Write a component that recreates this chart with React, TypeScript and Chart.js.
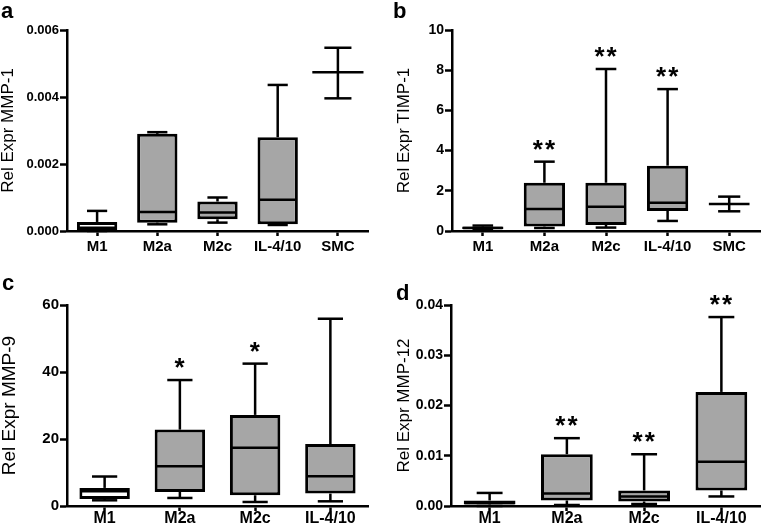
import React, { useEffect, useRef } from 'react';
import { Chart, registerables } from 'chart.js';

Chart.register(...registerables);

const FAMILY = "'Liberation Sans', Arial, Helvetica, sans-serif";
const GRAY = '#a6a6a6';

// ---------- Panel a : MMP-1 ----------
const categoriesA = ['M1', 'M2a', 'M2c', 'IL-4/10', 'SMC'];
const minA = [0, 0.0002, 0.00025, 0.00018, null];
const q1A = [0.00003, 0.00025, 0.00035, 0.0002, null];
const medianA = [0.0001, 0.00057, 0.00055, 0.00093, null];
const q3A = [0.00027, 0.0029, 0.00088, 0.0028, null];
const maxA = [0.0006, 0.00295, 0.001, 0.00436, null];
const meanA = [null, null, null, null, 0.00474];
const errLowA = [null, null, null, null, 0.00396];
const errHighA = [null, null, null, null, 0.00547];
const starsA = ['', '', '', '', ''];
const ticksA = [0, 0.002, 0.004, 0.006];
const tickLabelsA = ['0.000', '0.002', '0.004', '0.006'];
const titleA = 'Rel Expr MMP-1';

// ---------- Panel b : TIMP-1 ----------
const categoriesB = ['M1', 'M2a', 'M2c', 'IL-4/10', 'SMC'];
const minB = [0.05, 0.15, 0.17, 0.5, null];
const q1B = [0.1, 0.22, 0.3, 1.0, null];
const medianB = [0.15, 1.09, 1.21, 1.41, null];
const q3B = [0.22, 2.4, 2.4, 3.25, null];
const maxB = [0.27, 3.45, 8.06, 7.06, null];
const meanB = [null, null, null, null, 1.34];
const errLowB = [null, null, null, null, 0.98];
const errHighB = [null, null, null, null, 1.71];
const starsB = ['', '**', '**', '**', ''];
const ticksB = [0, 2, 4, 6, 8, 10];
const tickLabelsB = ['0', '2', '4', '6', '8', '10'];
const titleB = 'Rel Expr TIMP-1';

// ---------- Panel c : MMP-9 ----------
const categoriesC = ['M1', 'M2a', 'M2c', 'IL-4/10'];
const minC = [1.7, 2.4, 1.2, 1.4];
const q1C = [2.1, 4.2, 3.2, 3.7];
const medianC = [4.4, 11.9, 17.4, 8.9];
const q3C = [5.4, 22.8, 27.2, 18.5];
const maxC = [8.8, 37.6, 42.5, 55.9];
const meanC = [null, null, null, null];
const errLowC = [null, null, null, null];
const errHighC = [null, null, null, null];
const starsC = ['', '*', '*', ''];
const ticksC = [0, 20, 40, 60];
const tickLabelsC = ['0', '20', '40', '60'];
const titleC = 'Rel Expr MMP-9';

// ---------- Panel d : MMP-12 ----------
const categoriesD = ['M1', 'M2a', 'M2c', 'IL-4/10'];
const minD = [0, 0.0002, 0.0004, 0.0019];
const q1D = [0.0003, 0.0011, 0.0009, 0.0031];
const medianD = [0.0006, 0.0025, 0.0019, 0.0088];
const q3D = [0.0011, 0.0103, 0.0031, 0.0227];
const maxD = [0.0026, 0.0135, 0.0103, 0.0376];
const meanD = [null, null, null, null];
const errLowD = [null, null, null, null];
const errHighD = [null, null, null, null];
const starsD = ['', '**', '**', '**'];
const ticksD = [0, 0.01, 0.02, 0.03, 0.04];
const tickLabelsD = ['0.00', '0.01', '0.02', '0.03', '0.04'];
const titleD = 'Rel Expr MMP-12';

type PanelData = {
  labels: string[]; min: (number | null)[]; q1: (number | null)[]; median: (number | null)[];
  q3: (number | null)[]; max: (number | null)[]; mean: (number | null)[]; low: (number | null)[];
  high: (number | null)[]; stars: string[]; ticks: number[]; tickLabels: string[]; title: string;
};

const panels: PanelData[] = [
  { labels: categoriesA, min: minA, q1: q1A, median: medianA, q3: q3A, max: maxA, mean: meanA, low: errLowA, high: errHighA, stars: starsA, ticks: ticksA, tickLabels: tickLabelsA, title: titleA },
  { labels: categoriesB, min: minB, q1: q1B, median: medianB, q3: q3B, max: maxB, mean: meanB, low: errLowB, high: errHighB, stars: starsB, ticks: ticksB, tickLabels: tickLabelsB, title: titleB },
  { labels: categoriesC, min: minC, q1: q1C, median: medianC, q3: q3C, max: maxC, mean: meanC, low: errLowC, high: errHighC, stars: starsC, ticks: ticksC, tickLabels: tickLabelsC, title: titleC },
  { labels: categoriesD, min: minD, q1: q1D, median: medianD, q3: q3D, max: maxD, mean: meanD, low: errLowD, high: errHighD, stars: starsD, ticks: ticksD, tickLabels: tickLabelsD, title: titleD },
];

// layout / style per panel
const styles = [
  { letter: 'a', left: 0, top: 0, width: 380, height: 264, padding: { left: 0, top: 30, right: 12, bottom: 0 }, yWidth: 67, xHeight: 33, xFont: 15, yFont: 13, titleFont: 17, xPad: 3, meanW: 0.85, meanCap: 0.45, letterLeft: 1, letterTop: 0 },
  { letter: 'b', left: 380, top: 0, width: 381, height: 264, padding: { left: 16, top: 30, right: 1, bottom: 0 }, yWidth: 56, xHeight: 33, xFont: 15, yFont: 14, titleFont: 17, xPad: 3, meanW: 0.66, meanCap: 0.36, letterLeft: 393, letterTop: 0 },
  { letter: 'c', left: 0, top: 264, width: 380, height: 264, padding: { left: 0, top: 41, right: 12, bottom: 0 }, yWidth: 67, xHeight: 22, xFont: 16, yFont: 15, titleFont: 19, xPad: 0, meanW: 0.66, meanCap: 0.36, letterLeft: 2, letterTop: 272 },
  { letter: 'd', left: 380, top: 264, width: 381, height: 264, padding: { left: 16, top: 41, right: 1, bottom: 0 }, yWidth: 55, xHeight: 22, xFont: 16, yFont: 14, titleFont: 17, xPad: 0, meanW: 0.66, meanCap: 0.36, letterLeft: 396, letterTop: 282 },
];

const BAR_PCT = 0.67;
const STAR_GAP = 17;
const LW = 2.5;

function makeBoxPlugin(p: PanelData, s: any) {
  return {
    id: 'boxWhiskers',
    afterDatasetsDraw(chart: any) {
      const { ctx } = chart;
      const xs = chart.scales.x;
      const ys = chart.scales.y;
      const catW = (xs.right - xs.left) / p.labels.length;
      const bw = catW * BAR_PCT;
      const cap = bw * 0.5;
      const line = (x1: number, y1: number, x2: number, y2: number) => {
        ctx.beginPath();
        ctx.moveTo(x1, y1);
        ctx.lineTo(x2, y2);
        ctx.stroke();
      };
      ctx.save();
      ctx.strokeStyle = '#000';
      ctx.lineWidth = LW;
      ctx.lineCap = 'butt';
      p.labels.forEach((_, i) => {
        const x = xs.getPixelForValue(i);
        let topY: number | null = null;
        if (p.q1[i] != null) {
          const yMin = ys.getPixelForValue(p.min[i]);
          const yQ1 = ys.getPixelForValue(p.q1[i]);
          const yMed = ys.getPixelForValue(p.median[i]);
          const yQ3 = ys.getPixelForValue(p.q3[i]);
          const yMax = ys.getPixelForValue(p.max[i]);
          line(x, yQ3, x, yMax);
          line(x - cap / 2, yMax, x + cap / 2, yMax);
          line(x, yQ1, x, yMin);
          line(x - cap / 2, yMin, x + cap / 2, yMin);
          line(x - bw / 2 + 1, yMed, x + bw / 2 - 1, yMed);
          topY = yMax;
        }
        if (p.mean[i] != null) {
          const yM = ys.getPixelForValue(p.mean[i]);
          const yL = ys.getPixelForValue(p.low[i]);
          const yH = ys.getPixelForValue(p.high[i]);
          const mw = catW * s.meanW;
          const cw = catW * s.meanCap;
          line(x, yH, x, yL);
          line(x - mw / 2, yM, x + mw / 2, yM);
          line(x - cw / 2, yH, x + cw / 2, yH);
          line(x - cw / 2, yL, x + cw / 2, yL);
          topY = yH;
        }
        if (p.stars[i] && topY != null) {
          ctx.fillStyle = '#000';
          ctx.font = `bold 26px ${FAMILY}`;
          ctx.textAlign = 'left';
          ctx.textBaseline = 'alphabetic';
          (ctx as any).letterSpacing = '2px';
          const m = ctx.measureText(p.stars[i]);
          const w = m.actualBoundingBoxLeft + m.actualBoundingBoxRight;
          const center = topY - STAR_GAP;
          const base = center - (m.actualBoundingBoxDescent - m.actualBoundingBoxAscent) / 2;
          ctx.fillText(p.stars[i], x - w / 2 + m.actualBoundingBoxLeft, base);
          (ctx as any).letterSpacing = '0px';
        }
      });
      ctx.restore();
    },
  };
}

function Panel({ p, s }: { p: PanelData; s: any }) {
  const ref = useRef<HTMLCanvasElement | null>(null);
  useEffect(() => {
    if (!ref.current) return;
    const chart = new Chart(ref.current, {
      type: 'bar',
      data: {
        labels: p.labels,
        datasets: [
          {
            data: p.labels.map((_, i) => (p.q1[i] == null ? null : [p.q1[i], p.q3[i]])) as any,
            backgroundColor: p.labels.map((l) => (l === 'M1' ? '#ffffff' : GRAY)),
            borderColor: '#000',
            borderWidth: 3,
            borderSkipped: false,
            barPercentage: BAR_PCT,
            categoryPercentage: 1,
          },
        ],
      },
      options: {
        responsive: false,
        animation: false,
        devicePixelRatio: 1,
        layout: { padding: s.padding },
        plugins: { legend: { display: false }, tooltip: { enabled: false }, title: { display: false } },
        scales: {
          x: {
            grid: { display: true, offset: false, drawOnChartArea: false, drawTicks: true, tickLength: 5, tickWidth: LW, tickColor: '#000' },
            border: { display: true, color: '#000', width: LW },
            ticks: { color: '#000', font: { family: FAMILY, size: s.xFont, weight: 'bold', lineHeight: 1 }, padding: s.xPad, maxRotation: 0, autoSkip: false },
            afterFit: (sc: any) => { sc.height = s.xHeight; },
          },
          y: {
            min: p.ticks[0],
            max: p.ticks[p.ticks.length - 1],
            afterBuildTicks: (sc: any) => { sc.ticks = p.ticks.map((v) => ({ value: v })); },
            grid: { display: true, drawOnChartArea: false, drawTicks: true, tickLength: 7, tickWidth: LW, tickColor: '#000' },
            border: { display: true, color: '#000', width: LW },
            ticks: {
              color: '#000',
              font: { family: FAMILY, size: s.yFont, weight: 'bold' },
              padding: 1,
              callback: (_v: any, i: number) => p.tickLabels[i],
            },
            title: { display: true, text: p.title, color: '#000', font: { family: FAMILY, size: s.titleFont, weight: 'normal', lineHeight: 1 }, padding: { top: 0, bottom: 0 } },
            afterFit: (sc: any) => { sc.width = s.yWidth; },
          },
        },
      },
      plugins: [makeBoxPlugin(p, s)],
    } as any);
    return () => chart.destroy();
  }, []);
  return (
    <canvas
      ref={ref}
      width={s.width}
      height={s.height}
      style={{ position: 'absolute', left: s.left, top: s.top, width: s.width, height: s.height }}
    />
  );
}

export default function App() {
  return (
    <div style={{ position: 'absolute', left: 0, top: 0, width: 761, height: 528, background: '#fff', overflow: 'hidden' }}>
      {panels.map((p, i) => (
        <Panel key={i} p={p} s={styles[i]} />
      ))}
      {styles.map((s, i) => (
        <div
          key={'l' + i}
          style={{ position: 'absolute', left: s.letterLeft, top: s.letterTop, font: `bold 22px/22px ${FAMILY}`, color: '#000' }}
        >
          {s.letter}
        </div>
      ))}
    </div>
  );
}
